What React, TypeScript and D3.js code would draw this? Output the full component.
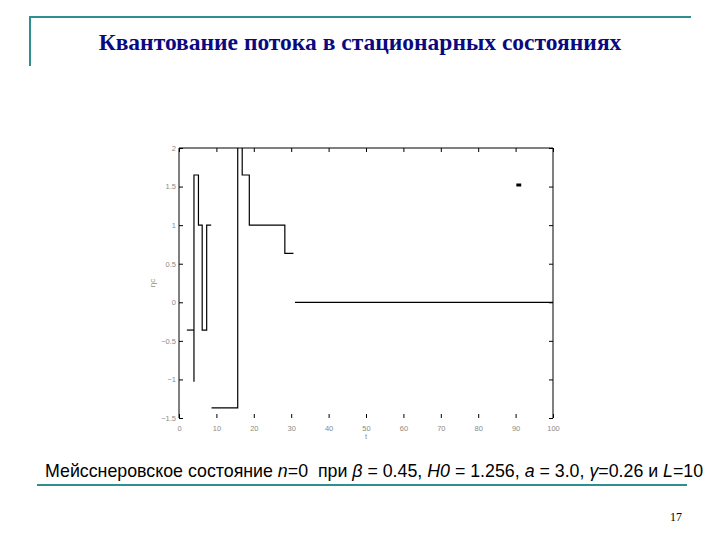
import React, { useEffect, useRef } from "react";
import * as d3 from "d3";

const titleText = "Квантование потока в стационарных состояниях";
const xTicks = [0, 10, 20, 30, 40, 50, 60, 70, 80, 90, 100];
const yTicks = [-1.5, -1, -0.5, 0, 0.5, 1, 1.5, 2];
const yTickLabels = ["\u22121.5", "\u22121", "\u22120.5", "0", "0.5", "1", "1.5", "2"];

// step segments (x, y) pairs, drawn as stairs
const seg1X = [2.1, 4.0];
const seg1Y = [-0.36, -0.36];
const seg2X = [4.0, 4.0, 5.2, 6.2, 7.4, 8.6];
const seg2Y = [-1.03, 1.65, 1.0, -0.36, 1.0, 1.0];
const seg3X = [8.7, 15.7, 16.9, 18.8, 28.3, 30.6];
const seg3Y = [-1.37, 2.6, 1.65, 1.0, 0.635, 0.635];
const seg4X = [31, 100];
const seg4Y = [0, 0];
const segmentsX = [seg1X, seg2X, seg3X, seg4X];
const segmentsY = [seg1Y, seg2Y, seg3Y, seg4Y];

const W = 720, H = 540;
const plotL = 179, plotR = 553, plotT = 148, plotB = 418;

export default function App() {
  const ref = useRef<SVGGElement>(null);
  const x = d3.scaleLinear().domain([0, 100]).range([plotL, plotR]);
  const y = d3.scaleLinear().domain([-1.5, 2]).range([plotB, plotT]);

  useEffect(() => {
    const g = d3.select(ref.current);
    g.selectAll("*").remove();
    const tickColor = "#000";
    const labColor = "#8a8a8a";
    const bottom = g.append("g").attr("transform", `translate(0,${plotB})`)
      .call(d3.axisBottom(x).tickValues(xTicks).tickSize(-4).tickPadding(6).tickFormat(d3.format("d")));
    bottom.select(".domain").remove();
    bottom.selectAll("line").attr("stroke", tickColor);
    bottom.selectAll("text").attr("fill", labColor).attr("font-size", 7.5).attr("font-family", "Liberation Sans").attr("dy", "0.9em");
    const top = g.append("g").attr("transform", `translate(0,${plotT})`)
      .call(d3.axisTop(x).tickValues(xTicks).tickSize(-4).tickFormat(() => ""));
    top.select(".domain").attr("stroke", "#000").attr("d", `M${plotL},0H${plotR}`);
    top.selectAll("line").attr("stroke", tickColor);
    const left = g.append("g").attr("transform", `translate(${plotL},0)`)
      .call(d3.axisLeft(y).tickValues(yTicks).tickSize(-4).tickPadding(3)
        .tickFormat((d, i) => yTickLabels[i]));
    left.select(".domain").attr("stroke", "#000").attr("d", `M0,${plotT}V${plotB}`);
    left.selectAll("line").attr("stroke", tickColor);
    left.selectAll("text").attr("fill", labColor).attr("font-size", 7.5).attr("font-family", "Liberation Sans");
    const right = g.append("g").attr("transform", `translate(${plotR},0)`)
      .call(d3.axisRight(y).tickValues(yTicks).tickSize(-4).tickFormat(() => ""));
    right.select(".domain").attr("stroke", "#000").attr("d", `M0,${plotT}V${plotB}`);
    right.selectAll("line").attr("stroke", tickColor);
  }, []);

  const line = d3.line<[number, number]>().x(d => x(d[0])).y(d => y(d[1])).curve(d3.curveStepAfter);

  return (
    <svg width={W} height={H} style={{ position: "absolute", left: 0, top: 0, background: "#fff" }}>
      <defs>
        <clipPath id="plotclip">
          <rect x={plotL} y={plotT} width={plotR - plotL} height={plotB - plotT} />
        </clipPath>
      </defs>
      <line x1={30} y1={17} x2={691} y2={17} stroke="#2f8f8f" strokeWidth={2} />
      <line x1={30} y1={16} x2={30} y2={66} stroke="#2f8f8f" strokeWidth={2} />
      <text x={360} y={50} textAnchor="middle" fontFamily="Liberation Serif" fontWeight="bold" fontSize={23.5} fill="#0a0a80">{titleText}</text>

      <g ref={ref} />
      <g clipPath="url(#plotclip)">
        {segmentsX.map((sx, i) => (
          <path key={i} d={line(sx.map((v, j) => [v, segmentsY[i][j]] as [number, number])) || ""} fill="none" stroke="#000" strokeWidth={1.2} />
        ))}
      </g>
      <line x1={x(90.2)} x2={x(91.5)} y1={185} y2={185} stroke="#000" strokeWidth={3} />
      <text x={366} y={439} textAnchor="middle" fontFamily="Liberation Sans" fontSize={7.5} fill="#8a8a8a">t</text>
      <text transform="translate(155,283) rotate(-90)" textAnchor="middle" fontFamily="Liberation Sans" fontSize={8} fill="#8a8a8a">ηc</text>

      <text x={45} y={477} fontFamily="Liberation Sans" fontSize={17.8} fill="#000" xmlSpace="preserve">
        <tspan>Мейсснеровское состояние </tspan>
        <tspan fontStyle="italic">n</tspan>
        <tspan>=0  при </tspan>
        <tspan fontStyle="italic">β</tspan>
        <tspan> = 0.45, </tspan>
        <tspan fontStyle="italic">H0</tspan>
        <tspan> = 1.256, </tspan>
        <tspan fontStyle="italic">a</tspan>
        <tspan> = 3.0, </tspan>
        <tspan fontStyle="italic">γ</tspan>
        <tspan>=0.26 и </tspan>
        <tspan fontStyle="italic">L</tspan>
        <tspan>=10</tspan>
      </text>
      <line x1={37} y1={485} x2={687} y2={485} stroke="#2f8f8f" strokeWidth={2} />
      <text x={670} y={521} fontFamily="Liberation Serif" fontSize={12} fill="#000">17</text>
    </svg>
  );
}
